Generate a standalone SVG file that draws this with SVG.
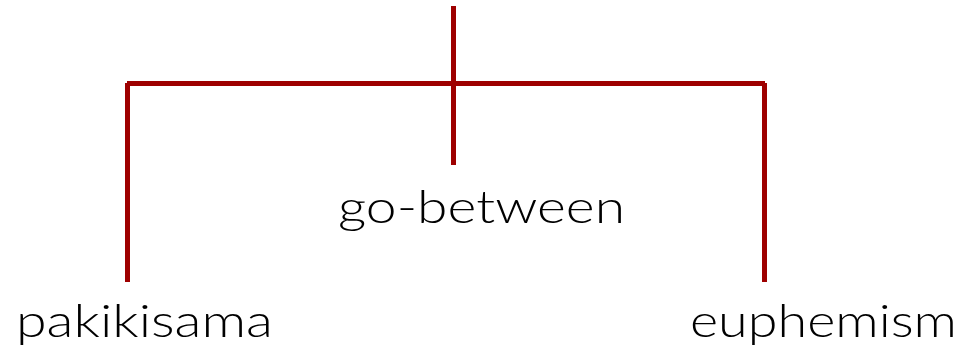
<svg xmlns="http://www.w3.org/2000/svg" width="962" height="347" viewBox="0 0 962 347">
<style>
.c{stroke:#9E0000;stroke-width:5;fill:none}
.t{font-family:Lato,"Liberation Sans",Arial,sans-serif;font-weight:300;font-size:46px;fill:#000}
</style>
<rect width="962" height="347" fill="#fff"/>
<g id="connectors">
<line class="c" x1="453.5" y1="6" x2="453.5" y2="165"/>
<line class="c" x1="127" y1="83.5" x2="765" y2="83.5"/>
<line class="c" x1="127.5" y1="83" x2="127.5" y2="282"/>
<line class="c" x1="764.5" y1="83" x2="764.5" y2="282"/>
</g>
<g id="go-between"><text class="t" x="338" y="223" textLength="287" lengthAdjust="spacingAndGlyphs">go-between</text></g>
<g id="pakikisama"><text class="t" x="16" y="337" textLength="257" lengthAdjust="spacingAndGlyphs">pakikisama</text></g>
<g id="euphemism"><text class="t" x="690" y="337" textLength="267" lengthAdjust="spacingAndGlyphs">euphemism</text></g>
</svg>
